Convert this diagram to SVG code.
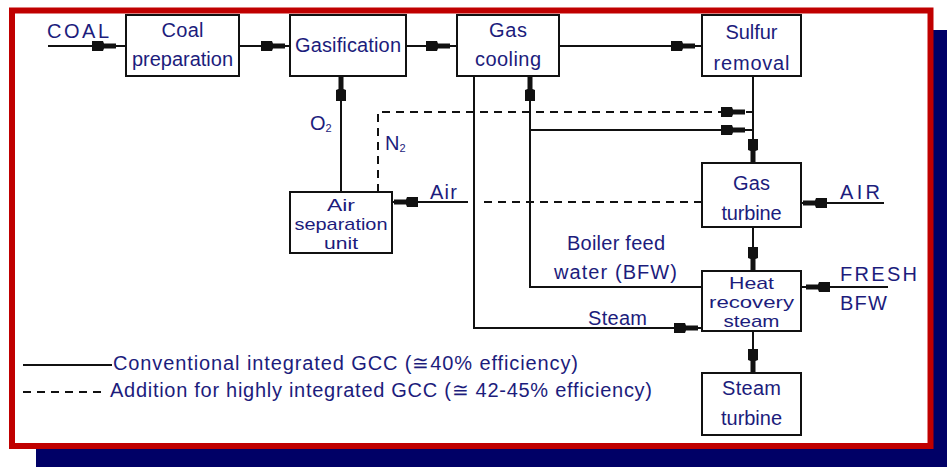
<svg xmlns="http://www.w3.org/2000/svg" xmlns:xlink="http://www.w3.org/1999/xlink" width="947" height="467" viewBox="0 0 947 467">
<style>
.box{fill:#fff;stroke:#111;stroke-width:2}
.ln{fill:none;stroke:#111;stroke-width:2}
.dash{fill:none;stroke:#111;stroke-width:2;stroke-dasharray:8 6}
text{font-family:"Liberation Sans",Arial,sans-serif;font-size:20px;fill:#1c1c7c}
.c{text-anchor:middle}
.t{font-size:17px}
.sub{font-size:11px}
</style>
<defs>
<path id="ah" d="M0,-2.5 L-12,-2.5 L-13,-5 L-24,-5 L-24,5 L-13,5 L-12,2.5 L0,2.5 Z" fill="#111"/>
</defs>
<rect x="36" y="30" width="911" height="437" fill="#000066"/>
<rect x="12" y="10.5" width="918.5" height="435.5" fill="#fff" stroke="#c00000" stroke-width="6"/>

<g id="connectors">
<path class="ln" d="M48,46 H126 M239,46 H290 M406,46 H457 M559,46 H702"/>
<path class="ln" d="M341,192 V76 M753,76 V163 M753,227 V271 M753,331 V373"/>
<path class="ln" d="M884,203 H801 M888,287 H801"/>
<path class="ln" d="M474,76 V328 H702 M702,287 H530 V76 M530,130 H753 M468,202 H392"/>
<path class="dash" d="M378,192 V112 H753 M702,202 H478"/>
<use href="#ah" transform="translate(116,46)"/>
<use href="#ah" transform="translate(285,46)"/>
<use href="#ah" transform="translate(450,46)"/>
<use href="#ah" transform="translate(695,46)"/>
<use href="#ah" transform="translate(341,77) rotate(-90)"/>
<use href="#ah" transform="translate(530,77) rotate(-90)"/>
<use href="#ah" transform="translate(745,112)"/>
<use href="#ah" transform="translate(745,130)"/>
<use href="#ah" transform="translate(753,163) rotate(90)"/>
<use href="#ah" transform="translate(394,202) rotate(180)"/>
<use href="#ah" transform="translate(803,203) rotate(180)"/>
<use href="#ah" transform="translate(753,271) rotate(90)"/>
<use href="#ah" transform="translate(806,287) rotate(180)"/>
<use href="#ah" transform="translate(698,328)"/>
<use href="#ah" transform="translate(753,373) rotate(90)"/>
<text x="47" y="38" textLength="62">COAL</text>
<text x="310" y="130">O<tspan class="sub" dy="2">2</tspan></text>
<text x="385" y="150">N<tspan class="sub" dy="2">2</tspan></text>
<text x="430" y="199" textLength="27">Air</text>
<text x="840" y="199" textLength="40">AIR</text>
<text x="567" y="250" textLength="98">Boiler feed</text>
<text x="554" y="279" textLength="123">water (BFW)</text>
<text x="588" y="325" textLength="59">Steam</text>
<text x="840" y="281" textLength="77">FRESH</text>
<text x="840" y="310" textLength="47">BFW</text>
</g>

<g id="coal-prep">
<rect class="box" x="126" y="15" width="113" height="61"/>
<text class="c" x="182.5" y="37" textLength="42">Coal</text>
<text class="c" x="182.5" y="66" textLength="101">preparation</text>
</g>
<g id="gasification">
<rect class="box" x="290" y="15" width="116" height="61"/>
<text class="c" x="348" y="52" textLength="106">Gasification</text>
</g>
<g id="gas-cooling">
<rect class="box" x="457" y="15" width="102" height="61"/>
<text class="c" x="508" y="37" textLength="38">Gas</text>
<text class="c" x="508" y="66" textLength="66">cooling</text>
</g>
<g id="sulfur-removal">
<rect class="box" x="702" y="15" width="99" height="61"/>
<text class="c" x="751.5" y="39" textLength="52">Sulfur</text>
<text class="c" x="751.5" y="70" textLength="76">removal</text>
</g>
<g id="air-separation">
<rect class="box" x="290" y="192" width="102" height="61"/>
<text class="c t" x="341" y="211" textLength="28" lengthAdjust="spacingAndGlyphs">Air</text>
<text class="c t" x="341" y="230" textLength="93" lengthAdjust="spacingAndGlyphs">separation</text>
<text class="c t" x="341" y="249" textLength="34" lengthAdjust="spacingAndGlyphs">unit</text>
</g>
<g id="gas-turbine">
<rect class="box" x="702" y="163" width="99" height="64"/>
<text class="c" x="751.5" y="190" textLength="37">Gas</text>
<text class="c" x="751.5" y="220" textLength="60">turbine</text>
</g>
<g id="hrsg">
<rect class="box" x="702" y="271" width="99" height="60"/>
<text class="c t" x="751.5" y="289" textLength="45" lengthAdjust="spacingAndGlyphs">Heat</text>
<text class="c t" x="751.5" y="308" textLength="85" lengthAdjust="spacingAndGlyphs">recovery</text>
<text class="c t" x="751.5" y="327" textLength="56" lengthAdjust="spacingAndGlyphs">steam</text>
</g>
<g id="steam-turbine">
<rect class="box" x="702" y="373" width="99" height="62"/>
<text class="c" x="751.5" y="395" textLength="59">Steam</text>
<text class="c" x="751.5" y="425" textLength="61">turbine</text>
</g>

<g id="legend">
<path class="ln" d="M23,365 H112"/>
<path class="dash" d="M23,392 H107"/>
<text x="113" y="370" textLength="465">Conventional integrated GCC (≅40% efficiency)</text>
<text x="110" y="397" textLength="542">Addition for highly integrated GCC (≅ 42-45% efficiency)</text>
</g>
</svg>
